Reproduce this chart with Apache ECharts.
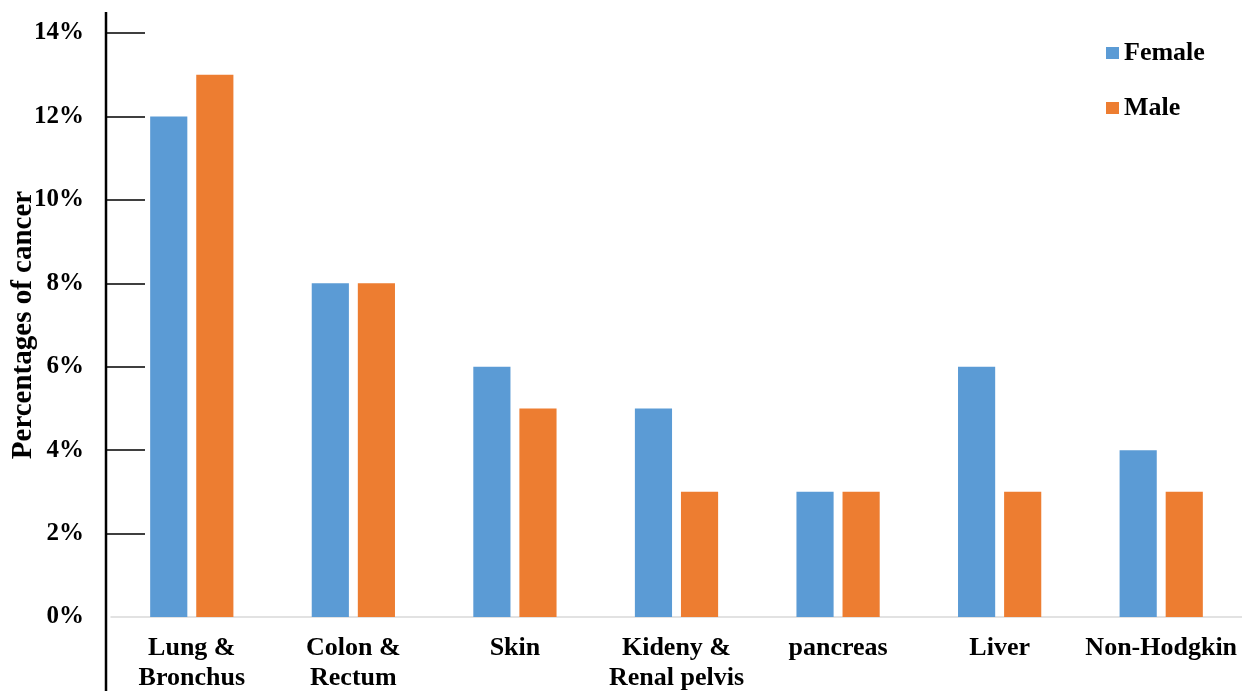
<!DOCTYPE html>
<html>
<head>
<meta charset="utf-8">
<script src="https://cdn.jsdelivr.net/npm/echarts@6/dist/echarts.min.js"></script>
<style>
  html, body { margin: 0; padding: 0; background: #ffffff; }
  #chart { width: 1242px; height: 691px; }
</style>
</head>
<body>
<div id="chart"></div>
<script>
// Cancer sites and the share of cases (%) by sex
const categories = ['Lung &\nBronchus', 'Colon &\nRectum', 'Skin', 'Kideny &\nRenal pelvis', 'pancreas', 'Liver', 'Non-Hodgkin'];
const female = [12, 8, 6, 5, 3, 6, 4];
const male = [13, 8, 5, 3, 3, 3, 3];
const yTicks = [2, 4, 6, 8, 10, 12, 14];

const FONT = "'Liberation Serif', 'Times New Roman', serif";
const chart = echarts.init(document.getElementById('chart'), null, { renderer: 'canvas' });

chart.setOption({
  backgroundColor: '#ffffff',
  animation: false,
  color: ['#5B9BD5', '#ED7D31'],
  grid: { left: 111, right: 0, top: 33, bottom: 74, containLabel: false, outerBoundsMode: 'none' },
  legend: {
    orient: 'vertical',
    left: 1106,
    top: 40,
    padding: 0,
    itemWidth: 13,
    itemHeight: 12,
    itemGap: 29,
    icon: 'rect',
    textStyle: { fontFamily: FONT, fontWeight: 'bold', fontSize: 26, color: '#000' },
    data: ['Female', 'Male']
  },
  xAxis: {
    type: 'category',
    data: categories,
    axisLine: { show: true, lineStyle: { color: '#d9d9d9', width: 1.5 } },
    axisTick: { show: false },
    axisLabel: {
      interval: 0,
      margin: 16,
      fontFamily: FONT, fontWeight: 'bold', fontSize: 26, color: '#000',
      lineHeight: 30
    }
  },
  yAxis: {
    type: 'value',
    min: 0, max: 14, interval: 2,
    offset: 5,
    name: 'Percentages of cancer',
    nameLocation: 'middle',
    nameGap: 68,
    nameMoveOverlap: false,
    nameTextStyle: { fontFamily: FONT, fontWeight: 'bold', fontSize: 29, color: '#000' },
    axisLine: { show: false },
    axisTick: {
      show: true, inside: true, length: 39,
      customValues: yTicks,
      lineStyle: { color: '#000', width: 1.5 }
    },
    splitLine: { show: false },
    axisLabel: {
      margin: 22,
      fontFamily: FONT, fontWeight: 'bold', fontSize: 25, color: '#000',
      formatter: v => v + '%'
    }
  },
  graphic: [{
    type: 'line',
    shape: { x1: 106, y1: 12, x2: 106, y2: 691 },
    style: { stroke: '#000', lineWidth: 2.5 },
    z: 10
  }],
  series: [
    { name: 'Female', type: 'bar', data: female, barWidth: '23%', barGap: '24%' },
    { name: 'Male', type: 'bar', data: male, barWidth: '23%', barGap: '24%' }
  ]
});
</script>
</body>
</html>
